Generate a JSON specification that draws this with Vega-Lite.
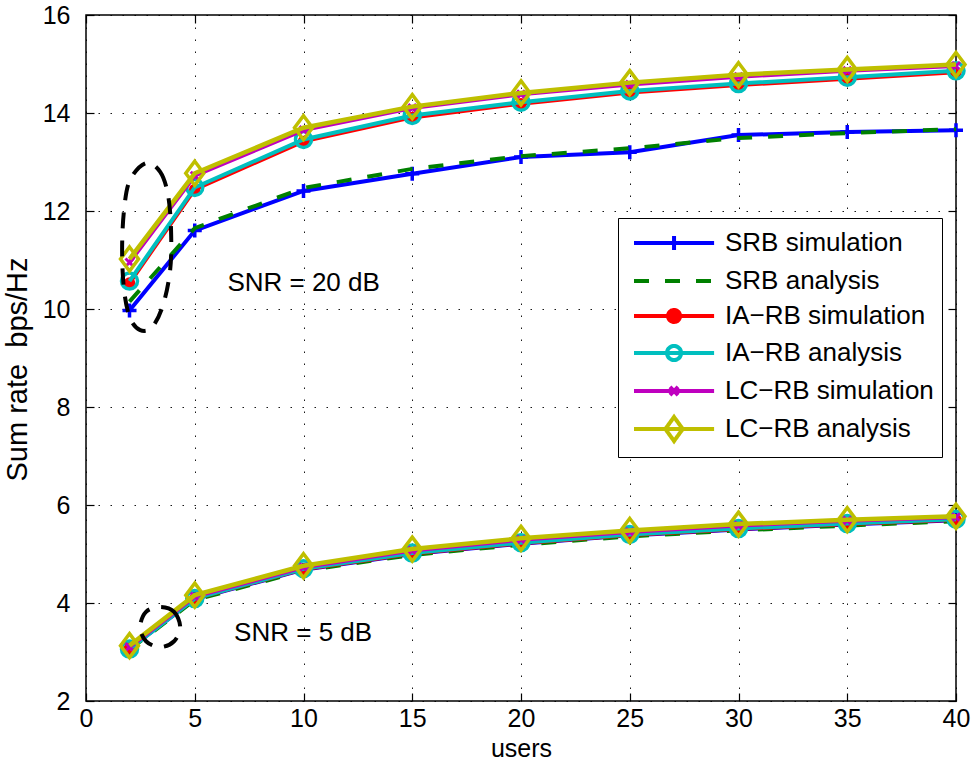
{
  "$schema": "https://vega.github.io/schema/vega-lite/v6.json",
  "width": 870,
  "height": 686,
  "autosize": {"type": "none"},
  "padding": {"left": 86, "top": 15, "right": 16, "bottom": 68},
  "background": "white",
  "config": {
    "view": {"stroke": "black", "strokeWidth": 1.5},
    "font": "Liberation Sans",
    "axis": {
      "domain": false,
      "tickSize": -8,
      "tickColor": "black",
      "tickWidth": 1.2,
      "labelFont": "Liberation Sans",
      "labelFontSize": 25,
      "labelColor": "black",
      "labelFlush": false,
      "titleFont": "Liberation Sans",
      "titleFontSize": 25,
      "titleFontWeight": "normal",
      "titleColor": "black",
      "grid": true,
      "gridColor": "black",
      "gridDash": [1.5, 10.5],
      "gridWidth": 1,
      "gridOpacity": 0.9
    },
    "axisX": {"labelPadding": 13, "titlePadding": 5},
    "axisY": {"labelPadding": 24, "titlePadding": 10}
  },
  "datasets": {
    "curves": [
      {"series": "SRB simulation", "snr": 20, "x": 2, "y": 9.97},
      {"series": "SRB simulation", "snr": 20, "x": 5, "y": 11.6},
      {"series": "SRB simulation", "snr": 20, "x": 10, "y": 12.41},
      {"series": "SRB simulation", "snr": 20, "x": 15, "y": 12.76},
      {"series": "SRB simulation", "snr": 20, "x": 20, "y": 13.1},
      {"series": "SRB simulation", "snr": 20, "x": 25, "y": 13.2},
      {"series": "SRB simulation", "snr": 20, "x": 30, "y": 13.55},
      {"series": "SRB simulation", "snr": 20, "x": 35, "y": 13.61},
      {"series": "SRB simulation", "snr": 20, "x": 40, "y": 13.65},
      {"series": "SRB simulation", "snr": 5, "x": 2, "y": 3.07},
      {"series": "SRB simulation", "snr": 5, "x": 5, "y": 4.08},
      {"series": "SRB simulation", "snr": 5, "x": 10, "y": 4.68},
      {"series": "SRB simulation", "snr": 5, "x": 15, "y": 5.0},
      {"series": "SRB simulation", "snr": 5, "x": 20, "y": 5.21},
      {"series": "SRB simulation", "snr": 5, "x": 25, "y": 5.38},
      {"series": "SRB simulation", "snr": 5, "x": 30, "y": 5.5},
      {"series": "SRB simulation", "snr": 5, "x": 35, "y": 5.6},
      {"series": "SRB simulation", "snr": 5, "x": 40, "y": 5.69},
      {"series": "SRB analysis", "snr": 20, "x": 2, "y": 10.15},
      {"series": "SRB analysis", "snr": 20, "x": 5, "y": 11.65},
      {"series": "SRB analysis", "snr": 20, "x": 10, "y": 12.47},
      {"series": "SRB analysis", "snr": 20, "x": 15, "y": 12.86},
      {"series": "SRB analysis", "snr": 20, "x": 20, "y": 13.12},
      {"series": "SRB analysis", "snr": 20, "x": 25, "y": 13.28},
      {"series": "SRB analysis", "snr": 20, "x": 30, "y": 13.49},
      {"series": "SRB analysis", "snr": 20, "x": 35, "y": 13.59},
      {"series": "SRB analysis", "snr": 20, "x": 40, "y": 13.67},
      {"series": "SRB analysis", "snr": 5, "x": 2, "y": 3.05},
      {"series": "SRB analysis", "snr": 5, "x": 5, "y": 4.06},
      {"series": "SRB analysis", "snr": 5, "x": 10, "y": 4.66},
      {"series": "SRB analysis", "snr": 5, "x": 15, "y": 4.98},
      {"series": "SRB analysis", "snr": 5, "x": 20, "y": 5.19},
      {"series": "SRB analysis", "snr": 5, "x": 25, "y": 5.36},
      {"series": "SRB analysis", "snr": 5, "x": 30, "y": 5.48},
      {"series": "SRB analysis", "snr": 5, "x": 35, "y": 5.58},
      {"series": "SRB analysis", "snr": 5, "x": 40, "y": 5.67},
      {"series": "IA−RB simulation", "snr": 20, "x": 2, "y": 10.53},
      {"series": "IA−RB simulation", "snr": 20, "x": 5, "y": 12.44},
      {"series": "IA−RB simulation", "snr": 20, "x": 10, "y": 13.42},
      {"series": "IA−RB simulation", "snr": 20, "x": 15, "y": 13.91},
      {"series": "IA−RB simulation", "snr": 20, "x": 20, "y": 14.19},
      {"series": "IA−RB simulation", "snr": 20, "x": 25, "y": 14.42},
      {"series": "IA−RB simulation", "snr": 20, "x": 30, "y": 14.57},
      {"series": "IA−RB simulation", "snr": 20, "x": 35, "y": 14.7},
      {"series": "IA−RB simulation", "snr": 20, "x": 40, "y": 14.83},
      {"series": "IA−RB simulation", "snr": 5, "x": 2, "y": 3.08},
      {"series": "IA−RB simulation", "snr": 5, "x": 5, "y": 4.09},
      {"series": "IA−RB simulation", "snr": 5, "x": 10, "y": 4.69},
      {"series": "IA−RB simulation", "snr": 5, "x": 15, "y": 5.01},
      {"series": "IA−RB simulation", "snr": 5, "x": 20, "y": 5.22},
      {"series": "IA−RB simulation", "snr": 5, "x": 25, "y": 5.39},
      {"series": "IA−RB simulation", "snr": 5, "x": 30, "y": 5.51},
      {"series": "IA−RB simulation", "snr": 5, "x": 35, "y": 5.61},
      {"series": "IA−RB simulation", "snr": 5, "x": 40, "y": 5.7},
      {"series": "IA−RB analysis", "snr": 20, "x": 2, "y": 10.57},
      {"series": "IA−RB analysis", "snr": 20, "x": 5, "y": 12.48},
      {"series": "IA−RB analysis", "snr": 20, "x": 10, "y": 13.46},
      {"series": "IA−RB analysis", "snr": 20, "x": 15, "y": 13.95},
      {"series": "IA−RB analysis", "snr": 20, "x": 20, "y": 14.22},
      {"series": "IA−RB analysis", "snr": 20, "x": 25, "y": 14.45},
      {"series": "IA−RB analysis", "snr": 20, "x": 30, "y": 14.6},
      {"series": "IA−RB analysis", "snr": 20, "x": 35, "y": 14.73},
      {"series": "IA−RB analysis", "snr": 20, "x": 40, "y": 14.86},
      {"series": "IA−RB analysis", "snr": 5, "x": 2, "y": 3.06},
      {"series": "IA−RB analysis", "snr": 5, "x": 5, "y": 4.09},
      {"series": "IA−RB analysis", "snr": 5, "x": 10, "y": 4.7},
      {"series": "IA−RB analysis", "snr": 5, "x": 15, "y": 5.02},
      {"series": "IA−RB analysis", "snr": 5, "x": 20, "y": 5.23},
      {"series": "IA−RB analysis", "snr": 5, "x": 25, "y": 5.4},
      {"series": "IA−RB analysis", "snr": 5, "x": 30, "y": 5.52},
      {"series": "IA−RB analysis", "snr": 5, "x": 35, "y": 5.62},
      {"series": "IA−RB analysis", "snr": 5, "x": 40, "y": 5.71},
      {"series": "LC−RB simulation", "snr": 20, "x": 2, "y": 10.95},
      {"series": "LC−RB simulation", "snr": 20, "x": 5, "y": 12.72},
      {"series": "LC−RB simulation", "snr": 20, "x": 10, "y": 13.65},
      {"series": "LC−RB simulation", "snr": 20, "x": 15, "y": 14.1},
      {"series": "LC−RB simulation", "snr": 20, "x": 20, "y": 14.38},
      {"series": "LC−RB simulation", "snr": 20, "x": 25, "y": 14.58},
      {"series": "LC−RB simulation", "snr": 20, "x": 30, "y": 14.74},
      {"series": "LC−RB simulation", "snr": 20, "x": 35, "y": 14.86},
      {"series": "LC−RB simulation", "snr": 20, "x": 40, "y": 14.96},
      {"series": "LC−RB simulation", "snr": 5, "x": 2, "y": 3.1},
      {"series": "LC−RB simulation", "snr": 5, "x": 5, "y": 4.13},
      {"series": "LC−RB simulation", "snr": 5, "x": 10, "y": 4.73},
      {"series": "LC−RB simulation", "snr": 5, "x": 15, "y": 5.07},
      {"series": "LC−RB simulation", "snr": 5, "x": 20, "y": 5.29},
      {"series": "LC−RB simulation", "snr": 5, "x": 25, "y": 5.45},
      {"series": "LC−RB simulation", "snr": 5, "x": 30, "y": 5.58},
      {"series": "LC−RB simulation", "snr": 5, "x": 35, "y": 5.68},
      {"series": "LC−RB simulation", "snr": 5, "x": 40, "y": 5.75},
      {"series": "LC−RB analysis", "snr": 20, "x": 2, "y": 11.02},
      {"series": "LC−RB analysis", "snr": 20, "x": 5, "y": 12.77},
      {"series": "LC−RB analysis", "snr": 20, "x": 10, "y": 13.7},
      {"series": "LC−RB analysis", "snr": 20, "x": 15, "y": 14.13},
      {"series": "LC−RB analysis", "snr": 20, "x": 20, "y": 14.41},
      {"series": "LC−RB analysis", "snr": 20, "x": 25, "y": 14.62},
      {"series": "LC−RB analysis", "snr": 20, "x": 30, "y": 14.78},
      {"series": "LC−RB analysis", "snr": 20, "x": 35, "y": 14.89},
      {"series": "LC−RB analysis", "snr": 20, "x": 40, "y": 14.99},
      {"series": "LC−RB analysis", "snr": 5, "x": 2, "y": 3.13},
      {"series": "LC−RB analysis", "snr": 5, "x": 5, "y": 4.16},
      {"series": "LC−RB analysis", "snr": 5, "x": 10, "y": 4.76},
      {"series": "LC−RB analysis", "snr": 5, "x": 15, "y": 5.1},
      {"series": "LC−RB analysis", "snr": 5, "x": 20, "y": 5.32},
      {"series": "LC−RB analysis", "snr": 5, "x": 25, "y": 5.48},
      {"series": "LC−RB analysis", "snr": 5, "x": 30, "y": 5.61},
      {"series": "LC−RB analysis", "snr": 5, "x": 35, "y": 5.7},
      {"series": "LC−RB analysis", "snr": 5, "x": 40, "y": 5.77}
    ],
    "ellipses": [
      {"e": 1, "i": 0, "x": 2.76, "y": 12.98},
      {"e": 1, "i": 1, "x": 3.41, "y": 12.8},
      {"e": 1, "i": 2, "x": 3.77, "y": 12.33},
      {"e": 1, "i": 3, "x": 3.91, "y": 11.61},
      {"e": 1, "i": 4, "x": 3.87, "y": 10.8},
      {"e": 1, "i": 5, "x": 3.54, "y": 10.08},
      {"e": 1, "i": 6, "x": 3.04, "y": 9.63},
      {"e": 1, "i": 7, "x": 2.49, "y": 9.57},
      {"e": 1, "i": 8, "x": 2.02, "y": 9.82},
      {"e": 1, "i": 9, "x": 1.75, "y": 10.39},
      {"e": 1, "i": 10, "x": 1.66, "y": 11.2},
      {"e": 1, "i": 11, "x": 1.75, "y": 12.02},
      {"e": 1, "i": 12, "x": 2.02, "y": 12.63},
      {"e": 2, "i": 0, "x": 3.41, "y": 3.92},
      {"e": 2, "i": 1, "x": 4.05, "y": 3.82},
      {"e": 2, "i": 2, "x": 4.33, "y": 3.51},
      {"e": 2, "i": 3, "x": 4.05, "y": 3.22},
      {"e": 2, "i": 4, "x": 3.41, "y": 3.1},
      {"e": 2, "i": 5, "x": 2.76, "y": 3.22},
      {"e": 2, "i": 6, "x": 2.49, "y": 3.51},
      {"e": 2, "i": 7, "x": 2.76, "y": 3.82}
    ],
    "notes": [
      {"x": 6.5, "y": 10.54, "label": "SNR = 20 dB"},
      {"x": 6.81, "y": 3.39, "label": "SNR = 5 dB"}
    ]
  },
  "layer": [
    {
      "data": {"name": "curves"},
      "encoding": {
        "x": {"field": "x", "type": "quantitative", "scale": {"domain": [0, 40], "nice": false, "zero": false}, "axis": {"title": "users", "values": [0, 5, 10, 15, 20, 25, 30, 35, 40]}},
        "y": {"field": "y", "type": "quantitative", "scale": {"domain": [2, 16], "nice": false, "zero": false}, "axis": {"title": "Sum rate\u00a0\u00a0bps/Hz", "values": [2, 4, 6, 8, 10, 12, 14, 16], "titleFontSize": 29, "titleY": 354}},
        "color": {
          "field": "series",
          "type": "nominal",
          "scale": {
            "domain": ["SRB simulation", "SRB analysis", "IA−RB simulation", "IA−RB analysis", "LC−RB simulation", "LC−RB analysis"],
            "range": ["#0000ff", "#008000", "#ff0000", "#00bfbf", "#bf00bf", "#bfbf00"]
          },
          "legend": {"title": null, "orient": "none", "legendX": 532, "legendY": 203}
        },
        "detail": {"field": "snr", "type": "nominal"}
      },
      "layer": [
        {
          "transform": [{"filter": "datum.x < 0"}],
          "mark": {"type": "point", "filled": false, "opacity": 1},
          "encoding": {
            "shape": {
              "field": "series",
              "type": "nominal",
              "scale": {
                "domain": ["SRB simulation", "SRB analysis", "IA−RB simulation", "IA−RB analysis", "LC−RB simulation", "LC−RB analysis"],
                "range": [
                  "M-0.6,0H4.74M2.07,-0.47V0.47",
                  "M-0.6,0H4.74",
                  "M-0.6,0H4.74M1.67,0A0.4,0.4 0 1,1 2.47,0A0.4,0.4 0 1,1 1.67,0Z",
                  "M-0.6,0H4.74M1.6,0A0.47,0.47 0 1,1 2.54,0A0.47,0.47 0 1,1 1.6,0Z",
                  "M-0.6,0H4.74M1.8,-0.27L2.34,0.27M1.8,0.27L2.34,-0.27",
                  "M-0.6,0H4.74M2.07,-0.8L2.65,0L2.07,0.8L1.49,0Z"
                ]
              },
              "legend": {
                "title": null,
                "orient": "none",
                "legendX": 532,
                "legendY": 203,
                "padding": 8,
                "fillColor": "white",
                "strokeColor": "black",
                "cornerRadius": 0,
                "labelFont": "Liberation Sans",
                "labelFontSize": 26,
                "labelColor": "black",
                "labelLimit": 500,
                "labelOffset": 65,
                "symbolSize": 900,
                "symbolStrokeWidth": 4,
                "symbolOpacity": 1,
                "rowPadding": 5
              }
            },
            "fill": {
              "field": "series",
              "type": "nominal",
              "scale": {
                "domain": ["SRB simulation", "SRB analysis", "IA−RB simulation", "IA−RB analysis", "LC−RB simulation", "LC−RB analysis"],
                "range": ["transparent", "transparent", "#ff0000", "transparent", "transparent", "transparent"]
              },
              "legend": {"title": null, "orient": "none", "legendX": 532, "legendY": 203}
            },
            "strokeDash": {
              "field": "series",
              "type": "nominal",
              "scale": {
                "domain": ["SRB simulation", "SRB analysis", "IA−RB simulation", "IA−RB analysis", "LC−RB simulation", "LC−RB analysis"],
                "range": [[1, 0], [15, 16], [1, 0], [1, 0], [1, 0], [1, 0]]
              },
              "legend": {"title": null, "orient": "none", "legendX": 532, "legendY": 203}
            }
          }
        },
        {
          "transform": [{"filter": "datum.series === 'SRB simulation'"}],
          "layer": [
            {"mark": {"type": "line", "strokeWidth": 4}},
            {"mark": {"type": "point", "shape": "M-1,0H1M0,-1V1", "size": 196, "filled": false, "strokeWidth": 3.5, "opacity": 1}}
          ]
        },
        {
          "transform": [{"filter": "datum.series === 'SRB analysis'"}],
          "mark": {"type": "line", "strokeWidth": 4, "strokeDash": [15, 16]}
        },
        {
          "transform": [{"filter": "datum.series === 'IA−RB simulation'"}],
          "layer": [
            {"mark": {"type": "line", "strokeWidth": 4}},
            {"mark": {"type": "point", "shape": "circle", "size": 100, "filled": false, "fill": "#ff0000", "strokeWidth": 1.5, "opacity": 1}}
          ]
        },
        {
          "transform": [{"filter": "datum.series === 'IA−RB analysis'"}],
          "layer": [
            {"mark": {"type": "line", "strokeWidth": 4}},
            {"mark": {"type": "point", "shape": "circle", "size": 256, "filled": false, "strokeWidth": 3.5, "opacity": 1}}
          ]
        },
        {
          "transform": [{"filter": "datum.series === 'LC−RB simulation'"}],
          "layer": [
            {"mark": {"type": "line", "strokeWidth": 4}},
            {"mark": {"type": "point", "shape": "M-1,-1L1,1M-1,1L1,-1", "size": 64, "filled": false, "strokeWidth": 3, "opacity": 1}}
          ]
        },
        {
          "transform": [{"filter": "datum.series === 'LC−RB analysis'"}],
          "layer": [
            {"mark": {"type": "line", "strokeWidth": 4.5}},
            {"mark": {"type": "point", "shape": "M0,-1L0.75,0L0,1L-0.75,0Z", "size": 576, "filled": false, "strokeWidth": 3.5, "opacity": 1}}
          ]
        },
        {
          "data": {"name": "ellipses"},
          "mark": {"type": "line", "interpolate": "cardinal-closed", "strokeWidth": 4, "strokeDash": [16, 12], "color": "black"},
          "encoding": {
            "color": {"value": "black"},
            "detail": {"field": "e", "type": "nominal"},
            "order": {"field": "i", "type": "quantitative"}
          }
        }
      ]
    },
    {
      "data": {"name": "notes"},
      "mark": {"type": "text", "align": "left", "baseline": "middle", "fontSize": 26, "font": "Liberation Sans", "color": "black"},
      "encoding": {
        "x": {"field": "x", "type": "quantitative", "scale": {"domain": [0, 40], "nice": false, "zero": false}, "axis": {"orient": "top", "labels": false, "grid": false, "title": null, "values": [0, 5, 10, 15, 20, 25, 30, 35, 40]}},
        "y": {"field": "y", "type": "quantitative", "scale": {"domain": [2, 16], "nice": false, "zero": false}, "axis": {"orient": "right", "labels": false, "grid": false, "title": null, "values": [2, 4, 6, 8, 10, 12, 14, 16]}},
        "text": {"field": "label", "type": "nominal"}
      }
    }
  ],
  "resolve": {"axis": {"x": "independent", "y": "independent"}}
}
